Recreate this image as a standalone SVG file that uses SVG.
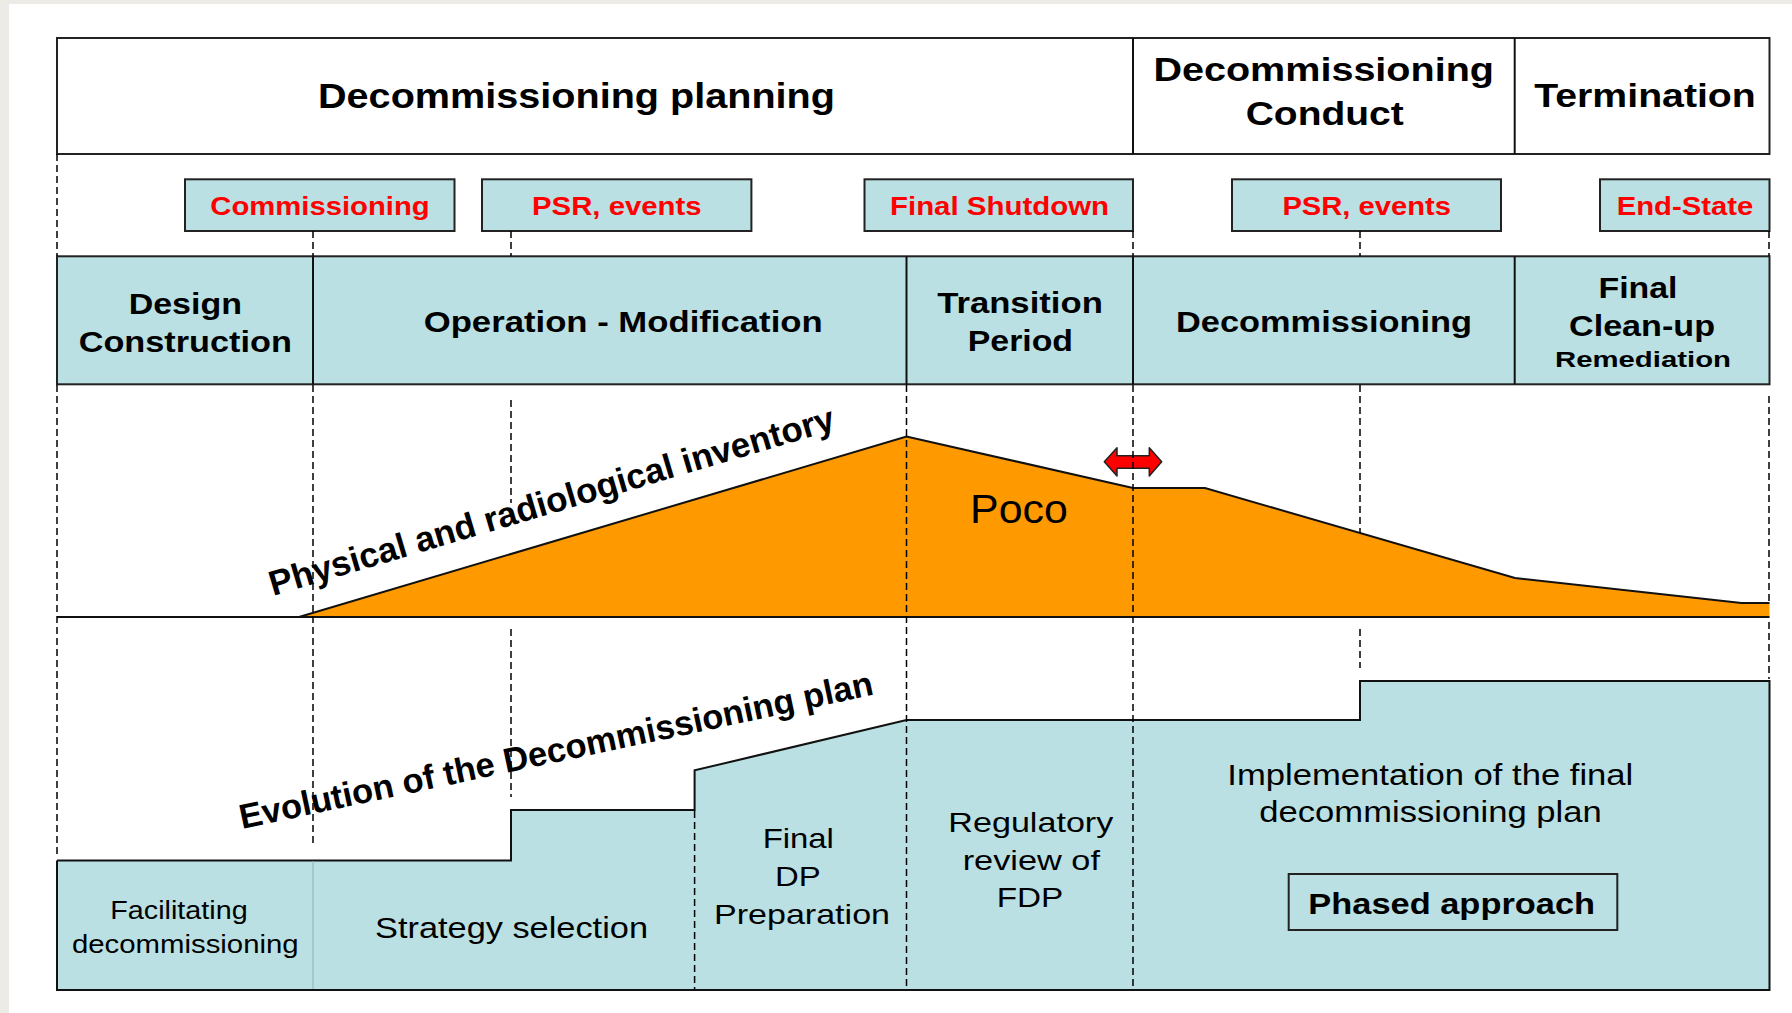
<svg xmlns="http://www.w3.org/2000/svg" width="1792" height="1013" viewBox="0 0 1792 1013">
<style>
.b{font-family:"Liberation Sans",Arial,sans-serif;font-weight:bold;text-anchor:middle;fill:#000}
.r{font-family:"Liberation Sans",Arial,sans-serif;font-weight:normal;text-anchor:middle;fill:#000}
.red{fill:#ff0000}
.box{fill:#bae0e3;stroke:#222;stroke-width:2}
.frame{fill:#fff;stroke:#222;stroke-width:2}
.dash{stroke:#000;stroke-width:1.5;stroke-dasharray:7 4;fill:none}
.ln{stroke:#111;stroke-width:2;fill:none}
.thin{stroke:#8fb0b4;stroke-width:1;fill:none}
</style>
<rect x="0" y="0" width="1792" height="1013" fill="#fff"/>
<rect x="0" y="0" width="1792" height="4" fill="#ecebe6"/>
<rect x="0" y="0" width="9" height="1013" fill="#ecebe6"/>

<g id="header">
<rect class="frame" x="57" y="38" width="1712.5" height="116"/>
<line class="ln" x1="1133" y1="38" x2="1133" y2="154"/>
<line class="ln" x1="1514.7" y1="38" x2="1514.7" y2="154"/>
<text class="b" x="576.5" y="108.3" font-size="35" textLength="517" lengthAdjust="spacingAndGlyphs">Decommissioning planning</text>
<text class="b" x="1323.7" y="81" font-size="34" textLength="340.5" lengthAdjust="spacingAndGlyphs">Decommissioning</text>
<text class="b" x="1324.7" y="125" font-size="34" textLength="158" lengthAdjust="spacingAndGlyphs">Conduct</text>
<text class="b" x="1645" y="107.3" font-size="34" textLength="221.5" lengthAdjust="spacingAndGlyphs">Termination</text>
</g>

<g id="events">
<g id="ev-commissioning"><rect class="box" x="185" y="179.3" width="269.5" height="51.7"/>
<text class="b red" x="320" y="214.5" font-size="26.5" textLength="219.4" lengthAdjust="spacingAndGlyphs">Commissioning</text></g>
<g id="ev-psr1"><rect class="box" x="482" y="179.3" width="269.4" height="51.7"/>
<text class="b red" x="616.8" y="214.5" font-size="26.5" textLength="169.5" lengthAdjust="spacingAndGlyphs">PSR, events</text></g>
<g id="ev-shutdown"><rect class="box" x="864.5" y="179.3" width="268.5" height="51.7"/>
<text class="b red" x="999.5" y="214.5" font-size="26.5" textLength="219" lengthAdjust="spacingAndGlyphs">Final Shutdown</text></g>
<g id="ev-psr2"><rect class="box" x="1232" y="179.3" width="269" height="51.7"/>
<text class="b red" x="1366.7" y="214.5" font-size="26.5" textLength="168.6" lengthAdjust="spacingAndGlyphs">PSR, events</text></g>
<g id="ev-endstate"><rect class="box" x="1600" y="179.3" width="169.5" height="51.7"/>
<text class="b red" x="1685" y="214.5" font-size="26.5" textLength="136.6" lengthAdjust="spacingAndGlyphs">End-State</text></g>
</g>

<g id="phases">
<rect class="box" x="57" y="256.3" width="1712.5" height="128"/>
<line class="ln" x1="313" y1="256.3" x2="313" y2="384.3"/>
<line class="ln" x1="906.5" y1="256.3" x2="906.5" y2="384.3"/>
<line class="ln" x1="1133" y1="256.3" x2="1133" y2="384.3"/>
<line class="ln" x1="1514.7" y1="256.3" x2="1514.7" y2="384.3"/>
<g id="ph-design">
<text class="b" x="185.3" y="314" font-size="29" textLength="113.3" lengthAdjust="spacingAndGlyphs">Design</text>
<text class="b" x="185.3" y="351.7" font-size="29" textLength="213.3" lengthAdjust="spacingAndGlyphs">Construction</text></g>
<g id="ph-operation">
<text class="b" x="623.2" y="331.7" font-size="29.5" textLength="399" lengthAdjust="spacingAndGlyphs">Operation - Modification</text></g>
<g id="ph-transition">
<text class="b" x="1020" y="313.3" font-size="29" textLength="165.7" lengthAdjust="spacingAndGlyphs">Transition</text>
<text class="b" x="1020.4" y="351" font-size="29" textLength="105.3" lengthAdjust="spacingAndGlyphs">Period</text></g>
<g id="ph-decom">
<text class="b" x="1324" y="331.7" font-size="29" textLength="296" lengthAdjust="spacingAndGlyphs">Decommissioning</text></g>
<g id="ph-final">
<text class="b" x="1638" y="298.3" font-size="29" textLength="79" lengthAdjust="spacingAndGlyphs">Final</text>
<text class="b" x="1642" y="335.7" font-size="29" textLength="146" lengthAdjust="spacingAndGlyphs">Clean-up</text>
<text class="b" x="1643" y="367.3" font-size="22" textLength="176" lengthAdjust="spacingAndGlyphs">Remediation</text></g>
</g>

<g id="inventory">
<polygon points="299,617 906.5,436.5 1133,488 1205,488 1515,578 1741.5,603 1769.5,603 1769.5,617" fill="#ff9900"/>
<polyline class="ln" points="299,617 906.5,436.5 1133,488 1205,488 1515,578 1741.5,603 1769.5,603"/>
<line class="ln" x1="57" y1="617" x2="1769.5" y2="617"/>
<text class="r" x="1018.9" y="523.3" font-size="41" textLength="97.7" lengthAdjust="spacingAndGlyphs">Poco</text>
<text class="b" transform="translate(273,596) rotate(-16.5)" x="0" y="0" style="text-anchor:start" font-size="35" textLength="588" lengthAdjust="spacingAndGlyphs">Physical and radiological inventory</text>
<polygon id="shift-arrow" points="1104.3,461.7 1117,447.7 1117,455.7 1149.3,455.7 1149.3,447.7 1161.7,461.7 1149.3,476 1149.3,468.3 1117,468.3 1117,476" fill="#ff0000" stroke="#222" stroke-width="1.5" stroke-linejoin="round"/>
</g>

<g id="plan">
<polygon points="57,860.5 511,860.5 511,810 694.6,810 694.6,770.4 906.5,720 1360,720 1360,681 1769.5,681 1769.5,990 57,990" fill="#bae0e3"/>
<polyline class="ln" points="57,860.5 511,860.5 511,810 694.6,810 694.6,770.4 906.5,720 1360,720 1360,681 1769.5,681 1769.5,990 57,990 57,860.5"/>
<line class="thin" x1="313" y1="861" x2="313" y2="989"/>
<text class="b" transform="translate(242,829) rotate(-12)" x="0" y="0" style="text-anchor:start" font-size="34.5" textLength="647" lengthAdjust="spacingAndGlyphs">Evolution of the Decommissioning plan</text>
<g id="pl-facilitating">
<text class="r" x="179" y="919.3" font-size="26" textLength="137.4" lengthAdjust="spacingAndGlyphs">Facilitating</text>
<text class="r" x="185.3" y="953.3" font-size="26" textLength="226.7" lengthAdjust="spacingAndGlyphs">decommissioning</text></g>
<g id="pl-strategy">
<text class="r" x="511.5" y="938.3" font-size="30" textLength="273" lengthAdjust="spacingAndGlyphs">Strategy selection</text></g>
<g id="pl-finaldp">
<text class="r" x="798.3" y="847.7" font-size="28" textLength="71.3" lengthAdjust="spacingAndGlyphs">Final</text>
<text class="r" x="797.8" y="886" font-size="28" textLength="45.7" lengthAdjust="spacingAndGlyphs">DP</text>
<text class="r" x="802" y="924.3" font-size="28" textLength="176" lengthAdjust="spacingAndGlyphs">Preparation</text></g>
<g id="pl-regulatory">
<text class="r" x="1030.8" y="831.7" font-size="28" textLength="165" lengthAdjust="spacingAndGlyphs">Regulatory</text>
<text class="r" x="1031.3" y="870" font-size="28" textLength="137.3" lengthAdjust="spacingAndGlyphs">review of</text>
<text class="r" x="1030" y="906.7" font-size="28" textLength="66.6" lengthAdjust="spacingAndGlyphs">FDP</text></g>
<g id="pl-implementation">
<text class="r" x="1430.3" y="785" font-size="29" textLength="406" lengthAdjust="spacingAndGlyphs">Implementation of the final</text>
<text class="r" x="1430.5" y="821.7" font-size="29" textLength="342.4" lengthAdjust="spacingAndGlyphs">decommissioning plan</text></g>
<g id="pl-phased">
<rect x="1288.7" y="874" width="328.6" height="56" fill="none" stroke="#222" stroke-width="2"/>
<text class="b" x="1451.7" y="914" font-size="30" textLength="286.7" lengthAdjust="spacingAndGlyphs">Phased approach</text></g>
</g>

<g id="connectors">
<line class="dash" x1="57" y1="154" x2="57" y2="256"/>
<line class="dash" x1="313" y1="231" x2="313" y2="256"/>
<line class="dash" x1="511" y1="231" x2="511" y2="256"/>
<line class="dash" x1="1133" y1="231" x2="1133" y2="256"/>
<line class="dash" x1="1360" y1="231" x2="1360" y2="256"/>
<line class="dash" x1="1769" y1="231" x2="1769" y2="256"/>
<line class="dash" x1="57" y1="385" x2="57" y2="857"/>
<line class="dash" x1="313" y1="385" x2="313" y2="846"/>
<line class="dash" x1="511" y1="400" x2="511" y2="503"/>
<line class="dash" x1="511" y1="629" x2="511" y2="797"/>
<line class="dash" x1="694.6" y1="811" x2="694.6" y2="989"/>
<line class="dash" x1="906.5" y1="385" x2="906.5" y2="989"/>
<line class="dash" x1="1133" y1="385" x2="1133" y2="989"/>
<line class="dash" x1="1360" y1="385" x2="1360" y2="533"/>
<line class="dash" x1="1360" y1="629" x2="1360" y2="668"/>
<line class="dash" x1="1769" y1="396" x2="1769" y2="602"/>
<line class="dash" x1="1769" y1="622" x2="1769" y2="679"/>
</g>
</svg>
